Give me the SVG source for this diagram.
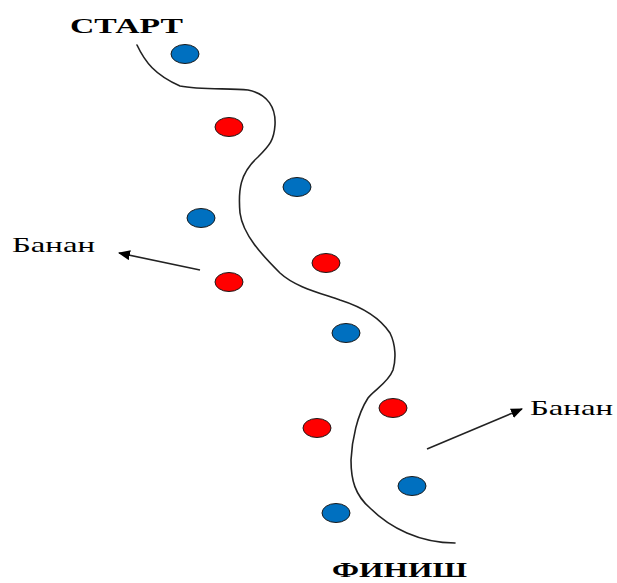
<svg xmlns="http://www.w3.org/2000/svg" width="617" height="583" viewBox="0 0 617 583">
  <style>
    .blue { fill: #0070C0; stroke: #1a1a1a; stroke-width: 1; }
    .red { fill: #FF0000; stroke: #1a1a1a; stroke-width: 1; }
    .path { fill: none; stroke: #222; stroke-width: 1.6; stroke-linecap: round; }
    .arrow { fill: none; stroke: #222; stroke-width: 1.6; }
    .title { font-family: "Liberation Serif", "Times New Roman", serif; font-size: 22px; font-weight: bold; fill: #000; }
    .label { font-family: "Liberation Serif", "Times New Roman", serif; font-size: 22px; fill: #000; }
  </style>
  <defs>
    <marker id="head" markerWidth="12" markerHeight="10" refX="11" refY="5" orient="auto" markerUnits="userSpaceOnUse">
      <path d="M0,0 L12,5 L0,10 Z" fill="#000"/>
    </marker>
  </defs>

  <rect width="617" height="583" fill="#fff"/>

  <!-- winding route -->
  <path class="path" d="M137,45 C145,62 155,75 180,86 C200,90 230,88 248,90 C268,94 276,108 275,125 C274,140 270,145 258,157 C240,173 238,190 240,213 C243,235 262,255 280,273 C295,287 320,293 340,300 C362,307 380,318 390,333 C396,345 396,360 393,370 C388,383 374,390 368,398 C357,415 352,440 351,460 C351,480 355,495 370,508 C390,528 420,543 455,543"/>

  <!-- labels -->
  <text id="start" class="title" x="70" y="33" textLength="113" lengthAdjust="spacingAndGlyphs">СТАРТ</text>
  <text id="finish" class="title" x="332" y="577" textLength="135" lengthAdjust="spacingAndGlyphs">ФИНИШ</text>

  <!-- markers along the route -->
  <g id="dots">
    <ellipse class="blue" cx="185" cy="54" rx="14" ry="9.5"/>
    <ellipse class="red" cx="229" cy="127" rx="14" ry="9.5"/>
    <ellipse class="blue" cx="297" cy="187" rx="14" ry="9.5"/>
    <ellipse class="blue" cx="201" cy="218" rx="14" ry="9.5"/>
    <ellipse class="red" cx="326" cy="263" rx="14" ry="9.5"/>
    <ellipse class="red" cx="229" cy="282" rx="14" ry="9.5"/>
    <ellipse class="blue" cx="346" cy="333" rx="14" ry="9.5"/>
    <ellipse class="red" cx="393" cy="408" rx="14" ry="9.5"/>
    <ellipse class="red" cx="317" cy="428" rx="14" ry="9.5"/>
    <ellipse class="blue" cx="412" cy="486" rx="14" ry="9.5"/>
    <ellipse class="blue" cx="336" cy="513" rx="14" ry="9.5"/>
  </g>

  <!-- banana pointers -->
  <g id="connectors">
    <line class="arrow" x1="200" y1="270" x2="119" y2="253" marker-end="url(#head)"/>
    <line class="arrow" x1="427" y1="449" x2="522" y2="409" marker-end="url(#head)"/>
  </g>
  <g id="banana-left">
    <text class="label" x="12" y="252" textLength="83" lengthAdjust="spacingAndGlyphs">Банан</text>
  </g>
  <g id="banana-right">
    <text class="label" x="530" y="415" textLength="83" lengthAdjust="spacingAndGlyphs">Банан</text>
  </g>
</svg>
